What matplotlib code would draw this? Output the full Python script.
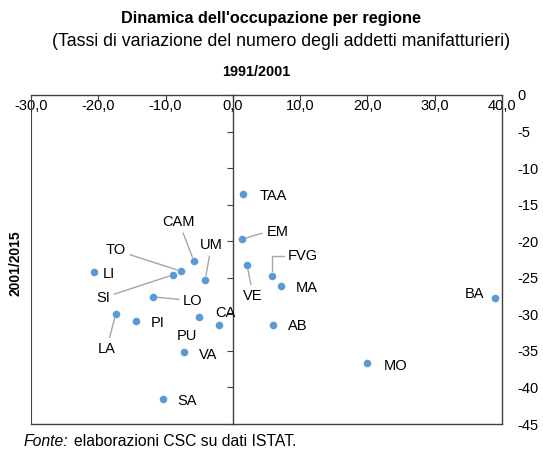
import numpy as np
import matplotlib
matplotlib.use("Agg")
import matplotlib.pyplot as plt

plt.rcParams["font.family"] = ["Liberation Sans", "DejaVu Sans"]

# regioni, variazione addetti 1991/2001 (x) e 2001/2015 (y)
regions = ["TAA", "EM", "VE", "FVG", "MA", "AB", "BA", "MO", "CAM", "UM",
           "TO", "SI", "LI", "LO", "LA", "PI", "PU", "CA", "VA", "SA"]
var_91_01 = [1.5, 1.4, 2.1, 5.8, 7.2, 6.0, 38.9, 20.0, -5.8, -4.1,
             -7.7, -8.9, -20.6, -11.9, -17.4, -14.4, -5.0, -2.0, -7.3, -10.4]
var_01_15 = [-13.6, -19.7, -23.2, -24.7, -26.1, -31.4, -27.7, -36.6, -22.7, -25.3,
             -24.1, -24.6, -24.2, -27.6, -29.9, -30.9, -30.4, -31.4, -35.1, -41.6]
x_ticks = [-30, -20, -10, 0, 10, 20, 30, 40]
y_ticks = [0, -5, -10, -15, -20, -25, -30, -35, -40, -45]

# label offsets from the point, in pixels (dx, dy) and whether a leader line is drawn
offsets = {
    "TAA": (30, -2, False), "EM": (35, 7, True), "VE": (6, -31, True),
    "FVG": (31, 20, True), "MA": (25, -2, False), "AB": (24, -1, False),
    "BA": (-20, 4, False), "MO": (28, -3, False), "CAM": (-15, 39, True),
    "UM": (6, 35, True), "TO": (-65, 21, True), "SI": (-70, -23, True),
    "LI": (15, -2, False), "LO": (40, -4, True), "LA": (-9, -35, True),
    "PI": (22, -2, False), "PU": (-12, -19, False), "CA": (6, 12, False),
    "VA": (24, -3, False), "SA": (24, -2, False),
}

BLUE = "#5B9BD5"
GREY = "#A6A6A6"
AX = "#404040"
fs = 10.5
px = 0.72  # points per pixel at dpi 100

fig = plt.figure(figsize=(5.43, 4.51), dpi=100)
ax = fig.add_axes([31 / 543, 1 - 424 / 451, (502 - 31) / 543, (424 - 95) / 451])

ax.scatter(var_91_01, var_01_15, s=30, color=BLUE, zorder=3, linewidths=0)

for name, x, y in zip(regions, var_91_01, var_01_15):
    dx, dy, lead = offsets[name]
    kw = {}
    if lead:
        cs = "arc3"
        if name == "FVG":
            cs = "angle,angleA=0,angleB=90,rad=0"
        kw["arrowprops"] = dict(arrowstyle="-", color=GREY, lw=1, shrinkA=1, shrinkB=3,
                                connectionstyle=cs,
                                relpos=(0, 0.5) if name in ("FVG", "EM") else (0.5, 0.5))
    ax.annotate(name, (x, y), xytext=(dx * px, dy * px), textcoords="offset points",
                ha="center", va="center", fontsize=fs, color="black", **kw)

ax.set_xlim(-30, 40)
ax.set_ylim(-45, 0)
ax.set_xticks(x_ticks)
ax.set_xticklabels([f"{v:.1f}".replace(".", ",") for v in x_ticks])
ax.set_yticks(y_ticks)
ax.set_yticklabels([str(v) for v in y_ticks])

ax.spines["left"].set_position(("data", 0))
for s in ax.spines.values():
    s.set_color(AX)
    s.set_linewidth(1)
ax.axvline(-30, color=AX, lw=1.5, zorder=2)

ax.tick_params(axis="x", top=True, bottom=False, labeltop=True, labelbottom=False,
               direction="in", length=4, pad=-13, labelsize=fs, color=AX)
ax.tick_params(axis="y", left=True, right=False, labelleft=False, labelright=True,
               direction="out", length=4, pad=7, labelsize=fs, color=AX)
for lab in ax.get_yticklabels():
    lab.set_horizontalalignment("left")

fig.text(271 / 543, 1 - 18 / 451, "Dinamica dell'occupazione per regione",
         ha="center", va="center", fontsize=11.7, fontweight="bold")
fig.text(281 / 543, 1 - 41 / 451, "(Tassi di variazione del numero degli addetti manifatturieri)",
         ha="center", va="center", fontsize=12.8)
fig.text(256 / 543, 1 - 72 / 451, "1991/2001", ha="center", va="center",
         fontsize=10.4, fontweight="bold")
fig.text(15 / 543, 1 - 263 / 451, "2001/2015", ha="center", va="center",
         fontsize=10, fontweight="bold", rotation=90)
t = fig.text(24 / 543, 1 - 441 / 451, "Fonte:", ha="left", va="center",
             fontsize=11.3, style="italic")
fig.canvas.draw()
bb = t.get_window_extent()
fig.text(bb.x1 / 543 + 5 / 543, 1 - 441 / 451, "elaborazioni CSC su dati ISTAT.",
         ha="left", va="center", fontsize=11.3)

fig.savefig("out.png", dpi=100)
